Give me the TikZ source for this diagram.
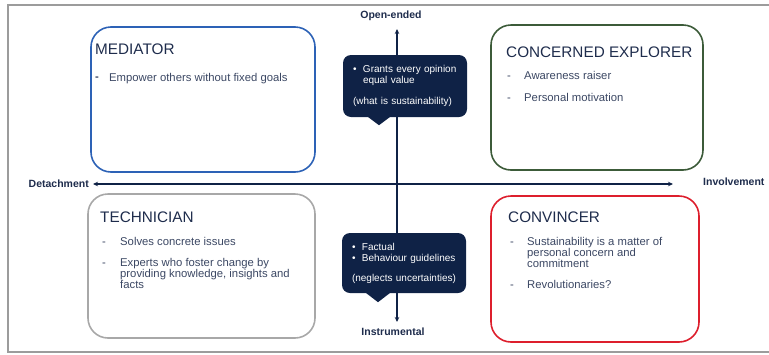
\documentclass[tikz,border=0pt]{standalone}
\usepackage{fontspec}
\setmainfont{Liberation Sans}
\usetikzlibrary{arrows.meta}

\definecolor{navy}{HTML}{0F2246}
\definecolor{titlecol}{HTML}{1E2C4C}
\definecolor{bodycol}{HTML}{3B4763}
\definecolor{medblue}{HTML}{2D62B6}
\definecolor{expgreen}{HTML}{3C5B39}
\definecolor{techgray}{HTML}{A8A8A8}
\definecolor{convred}{HTML}{DD1F2D}
\definecolor{framegray}{HTML}{9C9C9C}

\begin{document}
\begin{tikzpicture}[x=1pt,y=-1pt,
  quadbox/.style={draw, line width=1.6pt, rounded corners=20pt, inner sep=0pt},
  title/.style={font=\fontsize{15.3}{18}\selectfont, text=titlecol, inner sep=0pt, anchor=base west},
  item/.style={font=\fontsize{11.3}{11.2}\selectfont, text=bodycol, inner sep=0pt, anchor=base west},
  callout/.style={fill=navy, text=white, rounded corners=8pt,
    font=\fontsize{10}{11}\selectfont, text width=104pt, inner xsep=10pt,
    inner ysep=0pt, align=left},
  pointer/.style={fill=navy},
  axis/.style={draw=navy, line width=1.3pt,
    {Stealth[length=5pt,width=4.5pt]}-{Stealth[length=5pt,width=4.5pt]}},
  axlabel/.style={font=\bfseries\fontsize{10.5}{12}\selectfont, text=titlecol, inner sep=0pt}
]
\useasboundingbox (0,0) rectangle (769,354);

% outer frame, open on the right
\draw[framegray, line width=1.5pt] (769,5) -- (8,5) -- (8,352) -- (769,352);

% quadrant boxes
\node[quadbox, draw=medblue, minimum width=224pt, minimum height=145pt] (med) at (203,99.5) {};
\node[quadbox, draw=expgreen, minimum width=212pt, minimum height=145pt] (exp) at (597,97.5) {};
\node[quadbox, draw=techgray, minimum width=227pt, minimum height=144pt] (tech) at (201.5,266) {};
\node[quadbox, draw=convred, minimum width=208pt, minimum height=146pt] (conv) at (595,269) {};

% MEDIATOR
\node[title] (medT) at (95,54) {MEDIATOR};
\node[item, font=\bfseries\fontsize{11.3}{11.2}\selectfont] (medD1) at (95,80) {-};
\node[item] (medI1) at (109,81) {Empower others without fixed goals};

% CONCERNED EXPLORER
\node[title] (expT) at (506,57.5) {CONCERNED EXPLORER};
\node[item] (expD1) at (507,79) {-};
\node[item] (expI1) at (524,79) {Awareness raiser};
\node[item] (expD2) at (507,101) {-};
\node[item] (expI2) at (524,101) {Personal motivation};

% TECHNICIAN
\node[title] (techT) at (100,222) {TECHNICIAN};
\node[item] (techD1) at (102,245) {-};
\node[item] (techI1) at (120,245) {Solves concrete issues};
\node[item] (techD2) at (102,266) {-};
\node[item] (techI2) at (120,266) {\parbox[t]{180pt}{Experts who foster change by\\providing knowledge, insights and\\facts}};

% CONVINCER
\node[title] (convT) at (508,222) {CONVINCER};
\node[item] (convD1) at (510,245) {-};
\node[item] (convI1) at (527,245) {\parbox[t]{170pt}{Sustainability is a matter of\\personal concern and\\commitment}};
\node[item] (convD2) at (510,288) {-};
\node[item] (convI2) at (527,288) {Revolutionaries?};

% axes and their labels
\node[axlabel, anchor=south] (open) at (391,21) {Open-ended};
\node[axlabel, anchor=north] (instr) at (393,328) {Instrumental};
\node[axlabel, anchor=east] (det) at (89,183.5) {Detachment};
\node[axlabel, anchor=west] (inv) at (703,182) {Involvement};
\coordinate (axL) at (93,184);
\coordinate (axR) at (673,184);
\coordinate (axT) at (397,29);
\coordinate (axB) at (397,322);
\draw[axis] (axL) -- (axR);
\draw[axis] (axT) -- (axB);

% callouts on the vertical axis
\node[callout, minimum height=62pt] (c1) at (405,86)
  {\makebox[10pt][l]{\textbullet}Grants every opinion\\
   \hspace*{10pt}equal value\\[10pt]
   (what is sustainability)};
\fill[pointer] ([xshift=-38pt,yshift=1pt]c1.south) -- ([xshift=-26pt,yshift=-8pt]c1.south)
  -- ([xshift=-14pt,yshift=1pt]c1.south) -- cycle;

\node[callout, minimum height=60pt] (c2) at (404,263)
  {\makebox[10pt][l]{\textbullet}Factual\\
   \makebox[10pt][l]{\textbullet}Behaviour guidelines\\[9pt]
   (neglects uncertainties)};
\fill[pointer] ([xshift=-39pt,yshift=1pt]c2.south) -- ([xshift=-26pt,yshift=-9pt]c2.south)
  -- ([xshift=-13pt,yshift=1pt]c2.south) -- cycle;
\end{tikzpicture}
\end{document}
